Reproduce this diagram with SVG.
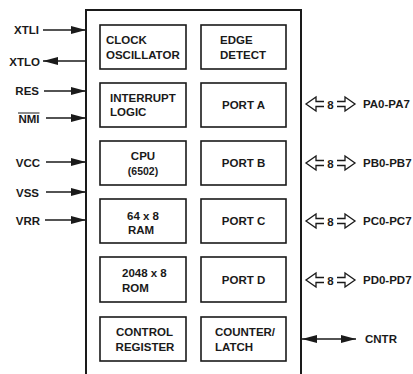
<svg xmlns="http://www.w3.org/2000/svg" width="413" height="374" viewBox="0 0 413 374">
<defs>
<style>
text{font-family:"Liberation Sans",Arial,sans-serif;font-weight:bold;font-size:11.5px;fill:#1a1a1a}
.c{text-anchor:middle}
.r{text-anchor:end}
.sm{font-size:10.5px}
.box{fill:#fff;stroke:#1a1a1a;stroke-width:1.6}
.wire{stroke:#1a1a1a;stroke-width:1.5;fill:none}
.bus{stroke:#1a1a1a;stroke-width:1.3;fill:none;stroke-linejoin:miter}
</style>
<marker id="ah" viewBox="0 0 15 9" refX="15" refY="4.5" markerWidth="15" markerHeight="9" markerUnits="userSpaceOnUse" orient="auto-start-reverse">
<path d="M0,0.5 L15,4.5 L0,8.5 Z" fill="#1a1a1a"/>
</marker>
</defs>
<rect width="413" height="374" fill="#fff"/>
<g id="chip">
<path d="M86,374 V10 H301 V374" fill="none" stroke="#1a1a1a" stroke-width="2"/>
</g>
<g id="clock"><rect class="box" x="100" y="25" width="86" height="44"/><text x="106" y="43.5">CLOCK</text><text x="106" y="58.5">OSCILLATOR</text></g>
<g id="edge"><rect class="box" x="201" y="25" width="85" height="44"/><text x="220" y="43.5">EDGE</text><text x="220" y="58.5">DETECT</text></g>
<g id="interrupt"><rect class="box" x="100" y="83" width="86" height="44"/><text x="110" y="101.5">INTERRUPT</text><text x="110" y="116">LOGIC</text></g>
<g id="porta"><rect class="box" x="201" y="83" width="85" height="44"/><text class="c" x="243.5" y="109">PORT A</text></g>
<g id="cpu"><rect class="box" x="100" y="141" width="86" height="44"/><text class="c" x="143" y="159.5">CPU</text><text class="c sm" x="143" y="175">(6502)</text></g>
<g id="portb"><rect class="box" x="201" y="141" width="85" height="44"/><text class="c" x="243.5" y="167">PORT B</text></g>
<g id="ram"><rect class="box" x="100" y="199" width="86" height="44"/><text x="127" y="220">64 x 8</text><text x="128" y="234">RAM</text></g>
<g id="portc"><rect class="box" x="201" y="199" width="85" height="44"/><text class="c" x="243.5" y="225">PORT C</text></g>
<g id="rom"><rect class="box" x="100" y="257" width="86" height="45"/><text x="122" y="277">2048 x 8</text><text x="122" y="292">ROM</text></g>
<g id="portd"><rect class="box" x="201" y="257" width="85" height="45"/><text class="c" x="243.5" y="284">PORT D</text></g>
<g id="control"><rect class="box" x="100" y="317" width="86" height="44"/><text class="c" x="144.5" y="336">CONTROL</text><text class="c" x="145" y="351">REGISTER</text></g>
<g id="counter"><rect class="box" x="201" y="317" width="85" height="44"/><text x="215" y="336">COUNTER/</text><text x="215" y="351">LATCH</text></g>
<g id="labels">
<text class="r" x="39" y="34">XTLI</text>
<text class="r" x="40" y="65.5">XTLO</text>
<text class="r" x="39" y="95">RES</text>
<text class="r" x="39.5" y="122.5">NMI</text>
<line x1="18" y1="113" x2="39.5" y2="113" stroke="#1a1a1a" stroke-width="1"/>
<text class="r" x="40" y="166.5">VCC</text>
<text class="r" x="39" y="196.5">VSS</text>
<text class="r" x="40" y="224.5">VRR</text>
<text x="363" y="108">PA0-PA7</text>
<text x="363" y="167">PB0-PB7</text>
<text x="363" y="225">PC0-PC7</text>
<text x="363" y="284">PD0-PD7</text>
<text x="365" y="343">CNTR</text>
</g>
<g id="connectors">
<line class="wire" x1="43" y1="30" x2="86" y2="30" marker-end="url(#ah)"/>
<line class="wire" x1="86" y1="61" x2="43" y2="61" marker-end="url(#ah)"/>
<line class="wire" x1="44" y1="91" x2="86" y2="91" marker-end="url(#ah)"/>
<line class="wire" x1="46" y1="118" x2="86" y2="118" marker-end="url(#ah)"/>
<line class="wire" x1="46" y1="162" x2="86" y2="162" marker-end="url(#ah)"/>
<line class="wire" x1="46" y1="192" x2="86" y2="192" marker-end="url(#ah)"/>
<line class="wire" x1="45" y1="220" x2="86" y2="220" marker-end="url(#ah)"/>
<line class="wire" x1="302" y1="339" x2="356" y2="339" marker-start="url(#ah)" marker-end="url(#ah)"/>
<g id="bus-a" transform="translate(0,104)">
<path class="bus" d="M324,-2.5 H316 V-7 L306,0 L316,7 V2.5 H324"/>
<text x="330.5" y="4.5" text-anchor="middle">8</text>
<path class="bus" d="M337,-2.5 H345 V-7 L355,0 L345,7 V2.5 H337"/>
</g>
<g id="bus-b" transform="translate(0,163)">
<path class="bus" d="M324,-2.5 H316 V-7 L306,0 L316,7 V2.5 H324"/>
<text x="330.5" y="4.5" text-anchor="middle">8</text>
<path class="bus" d="M337,-2.5 H345 V-7 L355,0 L345,7 V2.5 H337"/>
</g>
<g id="bus-c" transform="translate(0,221)">
<path class="bus" d="M324,-2.5 H316 V-7 L306,0 L316,7 V2.5 H324"/>
<text x="330.5" y="4.5" text-anchor="middle">8</text>
<path class="bus" d="M337,-2.5 H345 V-7 L355,0 L345,7 V2.5 H337"/>
</g>
<g id="bus-d" transform="translate(0,280)">
<path class="bus" d="M324,-2.5 H316 V-7 L306,0 L316,7 V2.5 H324"/>
<text x="330.5" y="4.5" text-anchor="middle">8</text>
<path class="bus" d="M337,-2.5 H345 V-7 L355,0 L345,7 V2.5 H337"/>
</g>
</g>
</svg>
